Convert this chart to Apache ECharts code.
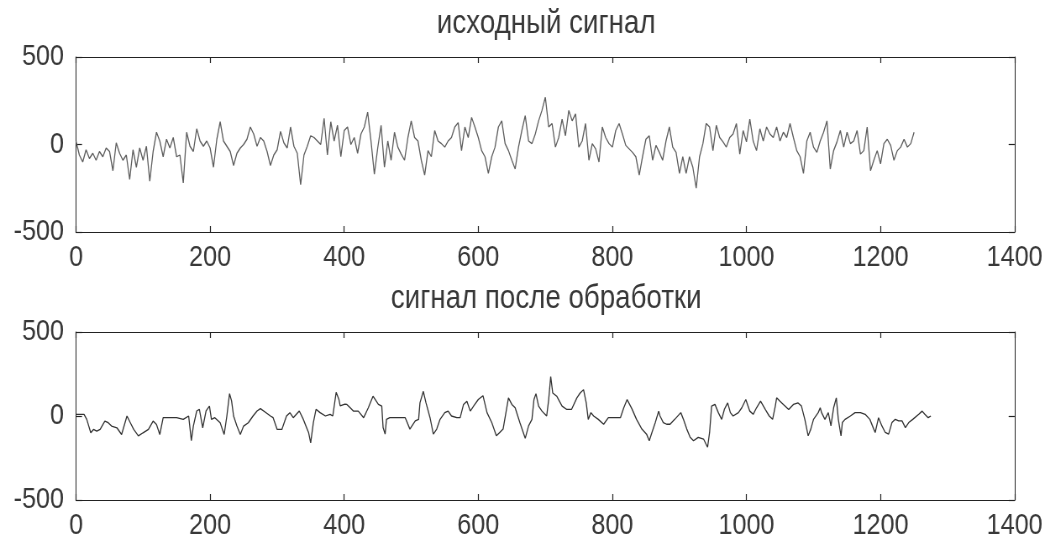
<!DOCTYPE html>
<html>
<head>
<meta charset="utf-8">
<script src="https://cdn.jsdelivr.net/npm/echarts@6/dist/echarts.min.js"></script>
<style>
  html, body { margin: 0; padding: 0; background: #fff; overflow: hidden; width: 1047px; height: 541px; }
  #chart { height: 541px; transform-origin: 0 0; }
</style>
</head>
<body>
<div id="chart"></div>
<script>
// Subplot titles
const titles = ['исходный сигнал', 'сигнал после обработки'];

// Shared axis ticks
const xMin = 0, xMax = 1400, xStep = 200;
const yMin = -500, yMax = 500, yStep = 500;

// Original signal, one reading every rawStep samples
const rawStep = 5;
const rawSignal = [
  20,-60,-100,-30,-80,-50,-90,-40,-70,-20,
  -40,-150,10,-50,-90,-60,-200,-30,-130,-20,
  -90,-10,-210,-40,70,20,-70,30,-20,40,
  -70,-60,-220,70,-10,-40,90,20,-10,20,
  -20,-130,30,130,20,-10,-40,-120,-50,-20,
  0,30,100,60,-10,40,20,-40,-120,-60,
  -30,75,10,-20,100,-10,-50,-230,-60,-10,
  50,40,20,0,150,-60,130,20,110,-70,
  80,100,0,40,-50,60,100,185,20,-170,
  -20,110,-130,20,-90,70,-15,-55,-90,40,
  135,40,20,-90,-175,-35,-70,80,20,5,
  -15,20,40,100,125,-35,100,40,155,100,
  40,-35,-70,-165,-70,-15,100,135,5,-35,
  -90,-140,-15,80,165,20,5,60,135,195,
  270,100,120,-15,40,145,50,195,135,175,
  -15,20,120,-90,5,-25,-100,100,40,5,
  -15,80,120,60,-5,-25,-45,-70,-175,-70,
  30,50,-90,-5,-45,-90,20,100,-15,-45,
  -165,-70,-165,-70,-130,-250,-70,5,120,100,
  -35,110,40,15,-15,40,60,120,-55,80,
  15,145,20,-35,90,20,100,60,40,100,
  20,70,40,120,40,-35,-70,-165,20,70,
  -15,-45,20,70,135,-140,-35,15,80,-15,
  70,5,20,80,-55,-35,100,-150,-90,-35,
  -110,5,30,-5,-90,-35,-15,30,-15,5,
  70
];

// Processed signal: [sample, value]
const processed = [
  [0,10],[6,10],[12,10],[16,-20],[22,-100],[26,-80],[31,-90],[36,-80],[43,-30],[48,-40],
  [53,-60],[61,-70],[68,-110],[76,0],[81,-40],[86,-80],[93,-118],[100,-100],[108,-80],[115,-30],
  [120,-50],[125,-110],[130,-10],[135,-10],[150,-10],[160,-20],[168,0],[172,-147],[175,-60],[180,30],
  [184,40],[189,-70],[194,30],[199,59],[202,-20],[207,-10],[215,-40],[221,-110],[225,0],[229,133],
  [232,90],[235,0],[240,-60],[245,-110],[250,-60],[257,-40],[264,0],[270,30],[275,44],[282,24],
  [290,0],[294,-10],[300,-80],[307,-80],[314,0],[319,20],[324,-10],[333,30],[339,-20],[347,-100],
  [350,-160],[354,-40],[358,40],[364,20],[372,0],[379,10],[383,0],[388,141],[392,100],[394,60],
  [401,70],[404,69],[409,49],[414,29],[421,29],[429,-10],[436,49],[443,118],[451,69],[456,59],
  [458,-69],[461,-108],[463,-20],[468,-10],[478,-10],[491,-10],[498,-78],[506,-29],[511,-20],[513,78],
  [518,147],[522,78],[528,-10],[533,-108],[538,-78],[543,-20],[550,20],[555,29],[560,0],[568,-10],
  [573,-10],[578,69],[583,88],[588,29],[593,59],[600,98],[607,121],[613,20],[620,-39],[627,-118],
  [632,-98],[637,-78],[645,108],[650,69],[655,49],[662,-39],[670,-133],[675,-59],[680,-20],[683,98],
  [686,133],[690,59],[695,29],[702,0],[705,98],[708,235],[711,137],[717,118],[725,59],[732,39],
  [739,39],[747,108],[752,137],[757,157],[761,78],[764,-20],[768,20],[772,0],[779,-20],[787,-49],
  [794,-10],[802,-10],[812,-10],[817,49],[822,98],[829,44],[836,-20],[844,-78],[851,-108],[855,-147],
  [859,-98],[864,-39],[869,29],[871,0],[876,-39],[881,-49],[886,-49],[893,-20],[902,20],[906,-20],
  [911,-78],[916,-127],[921,-147],[928,-127],[936,-137],[942,-186],[945,-98],[948,59],[953,69],[958,20],
  [963,-20],[967,39],[972,78],[976,20],[980,0],[988,20],[993,49],[999,98],[1005,29],[1010,10],
  [1015,49],[1021,88],[1028,39],[1034,0],[1039,-20],[1043,59],[1045,108],[1050,88],[1055,69],[1063,39],
  [1070,69],[1077,78],[1082,59],[1087,-20],[1092,-118],[1096,-78],[1100,-20],[1107,20],[1110,49],[1112,20],
  [1117,-20],[1122,20],[1126,-59],[1130,49],[1134,108],[1137,-20],[1141,-118],[1143,-39],[1147,-20],[1155,0],
  [1162,20],[1170,20],[1177,10],[1184,-20],[1189,-69],[1192,-98],[1197,-10],[1202,-59],[1207,-98],[1212,-108],
  [1217,-39],[1222,-20],[1227,-29],[1232,-29],[1237,-69],[1242,-39],[1248,-20],[1257,10],[1262,29],[1266,10],
  [1271,-10],[1275,0]
];

const rawData = rawSignal.map((v, i) => [i * rawStep, v]);

// The figure uses a condensed face: draw wide, then squeeze horizontally.
const SX = 0.84;
const px = v => v / SX;   // horizontal layout value in the unsqueezed frame

const el = document.getElementById('chart');
el.style.width = px(1047) + 'px';
el.style.transform = 'scaleX(' + SX + ')';

const FONT = "'Liberation Sans', Arial, sans-serif";
const AXIS_COLOR = '#222';
const LABEL_COLOR = '#383838';
const plain = v => String(v);

function xAxisPair(gridIndex) {
  const common = {
    type: 'value', gridIndex, min: xMin, max: xMax, interval: xStep,
    axisLine: { show: true, onZero: false, lineStyle: { color: AXIS_COLOR, width: 1.2 } },
    axisTick: { show: true, inside: true, length: 6, lineStyle: { color: AXIS_COLOR, width: 1.2 } },
    splitLine: { show: false }
  };
  return [
    Object.assign({}, common, {
      position: 'bottom',
      axisLabel: { show: true, color: LABEL_COLOR, fontFamily: FONT, fontSize: 30, margin: 11, formatter: plain }
    }),
    Object.assign({}, common, { position: 'top', axisLabel: { show: false } })
  ];
}

function yAxisPair(gridIndex) {
  const common = {
    type: 'value', gridIndex, min: yMin, max: yMax, interval: yStep,
    axisLine: { show: true, onZero: false, lineStyle: { color: AXIS_COLOR, width: 1 } },
    axisTick: { show: true, inside: true, length: px(6), lineStyle: { color: AXIS_COLOR, width: 1.2 } },
    splitLine: { show: false }
  };
  return [
    Object.assign({}, common, {
      position: 'left',
      axisLabel: { show: true, color: LABEL_COLOR, fontFamily: FONT, fontSize: 30, margin: px(12), formatter: plain }
    }),
    Object.assign({}, common, { position: 'right', axisLabel: { show: false } })
  ];
}

const chart = echarts.init(el, null, { renderer: 'canvas' });

const titleStyle = { fontFamily: FONT, fontSize: 33, fontWeight: 'normal', color: LABEL_COLOR };

chart.setOption({
  animation: false,
  backgroundColor: '#fff',
  title: [
    { text: titles[0], left: px(542), top: 2, textAlign: 'center', textStyle: titleStyle },
    { text: titles[1], left: px(542), top: 277, textAlign: 'center', textStyle: titleStyle }
  ],
  grid: [
    { left: px(76), right: px(32), top: 57, height: 175 },
    { left: px(76), right: px(32), top: 332, height: 172 }
  ],
  xAxis: [...xAxisPair(0), ...xAxisPair(1)],
  yAxis: [...yAxisPair(0), ...yAxisPair(1)],
  series: [
    { type: 'line', xAxisIndex: 0, yAxisIndex: 0, data: rawData, showSymbol: false,
      lineStyle: { color: '#5e5e5e', width: 1.3 } },
    { type: 'line', xAxisIndex: 2, yAxisIndex: 2, data: processed, showSymbol: false,
      lineStyle: { color: '#333', width: 1.3 } }
  ]
});
</script>
</body>
</html>
